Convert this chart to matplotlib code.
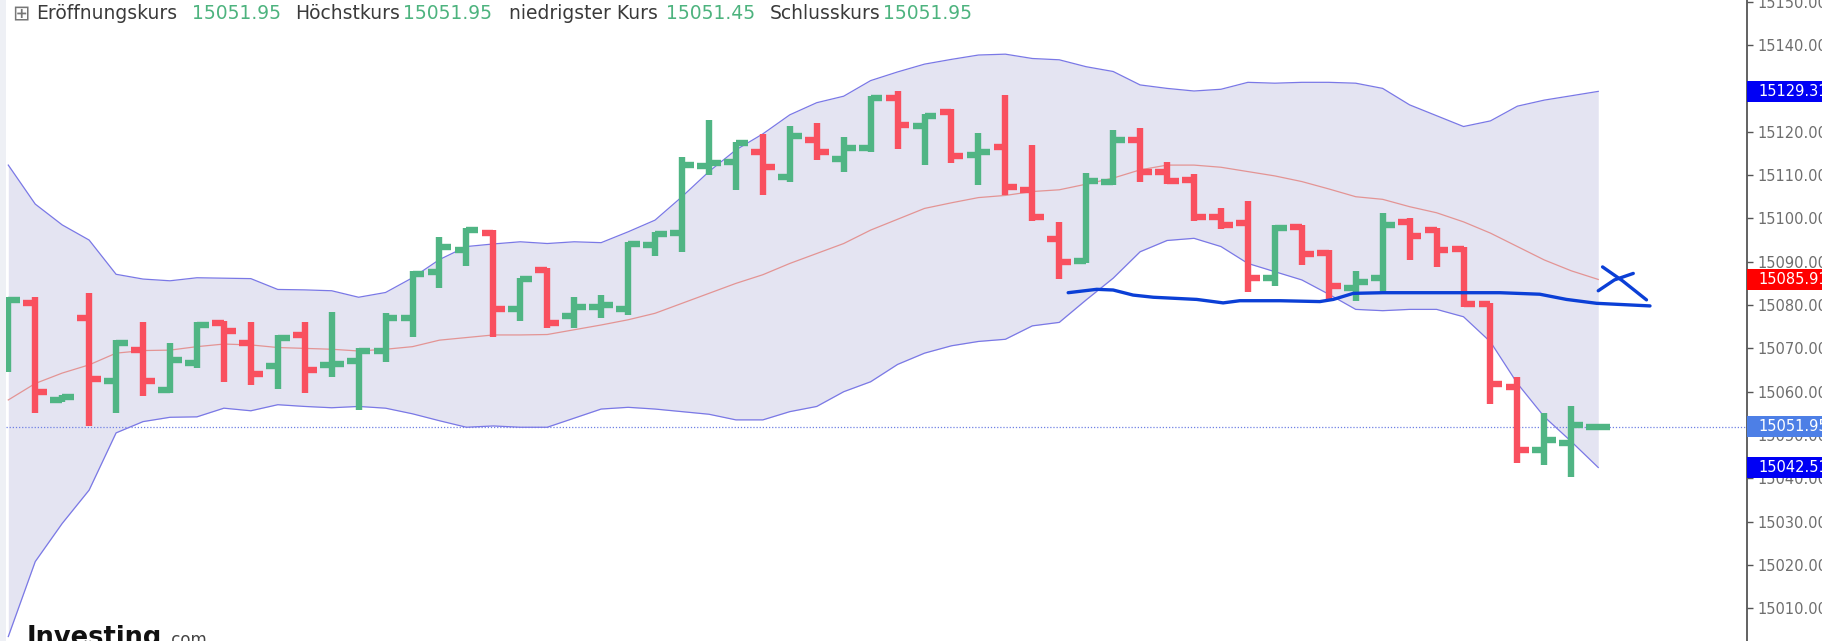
import numpy as np
import matplotlib.pyplot as plt
from matplotlib.patches import Rectangle
from matplotlib.ticker import FormatStrFormatter
from matplotlib.transforms import blended_transform_factory

W, H = 1822, 641

# OHLC, one entry per bar (oldest first)
opens = [15066.0, 15080.4, 15058.2, 15077.0, 15062.5, 15069.6, 15060.4, 15066.7, 15075.8, 15071.3,
         15065.9, 15073.1, 15066.2, 15067.2, 15069.3, 15077.1, 15087.7, 15092.7, 15096.7, 15079.0,
         15088.1, 15077.5, 15079.6, 15079.2, 15093.9, 15096.7, 15112.2, 15113.1, 15115.4, 15109.6,
         15118.1, 15113.6, 15116.3, 15127.7, 15121.3, 15124.6, 15114.6, 15116.4, 15106.6, 15095.2,
         15090.2, 15108.5, 15118.2, 15110.8, 15108.9, 15100.4, 15098.9, 15086.3, 15097.9, 15091.9,
         15083.9, 15086.2, 15099.2, 15097.3, 15092.9, 15080.3, 15061.0, 15046.5, 15048.2, 15051.95]
highs = [15081.9, 15081.9, 15059.3, 15082.7, 15072.0, 15076.2, 15071.3, 15076.2, 15076.4, 15076.2,
         15073.0, 15076.2, 15078.5, 15070.0, 15078.1, 15087.9, 15095.8, 15097.7, 15097.3, 15086.3,
         15088.5, 15081.8, 15082.3, 15094.6, 15096.9, 15114.1, 15122.6, 15117.7, 15119.4, 15121.3,
         15122.1, 15118.7, 15128.2, 15129.5, 15124.2, 15125.2, 15119.8, 15128.5, 15116.9, 15099.2,
         15110.4, 15120.4, 15120.8, 15113.1, 15110.2, 15102.3, 15103.9, 15098.5, 15098.5, 15092.7,
         15087.9, 15101.2, 15100.0, 15097.7, 15093.3, 15080.4, 15063.5, 15055.2, 15056.6, 15051.95]
lows = [15064.6, 15055.2, 15057.7, 15052.1, 15055.2, 15058.9, 15059.6, 15065.4, 15062.2, 15061.6,
        15060.6, 15059.6, 15063.3, 15055.8, 15066.9, 15072.6, 15083.9, 15088.9, 15072.7, 15076.4,
        15074.6, 15074.6, 15077.0, 15077.7, 15091.3, 15092.3, 15110.0, 15106.6, 15105.4, 15108.3,
        15113.5, 15110.8, 15115.4, 15116.0, 15112.3, 15112.7, 15107.7, 15105.4, 15099.5, 15085.9,
        15089.6, 15107.7, 15108.5, 15107.9, 15099.5, 15097.5, 15082.9, 15084.3, 15089.2, 15081.5,
        15081.0, 15083.1, 15090.4, 15088.7, 15079.6, 15057.2, 15043.6, 15043.1, 15040.3, 15051.45]
closes = [15081.2, 15060.0, 15058.8, 15062.9, 15071.3, 15062.5, 15067.3, 15075.4, 15073.9, 15064.1,
          15072.3, 15064.9, 15066.4, 15069.4, 15077.1, 15087.2, 15093.5, 15097.3, 15079.2, 15085.9,
          15075.9, 15079.5, 15080.0, 15094.1, 15096.5, 15112.3, 15112.7, 15117.3, 15111.9, 15119.0,
          15115.4, 15116.3, 15127.7, 15121.5, 15123.6, 15114.4, 15115.4, 15107.3, 15100.4, 15090.0,
          15108.7, 15118.1, 15110.8, 15108.7, 15100.4, 15098.5, 15086.3, 15097.7, 15091.8, 15084.4,
          15085.4, 15098.5, 15095.9, 15092.7, 15080.3, 15061.8, 15046.5, 15048.9, 15052.3, 15051.95]

# Bollinger bands
bb_upper = [15112.3, 15103.3, 15098.5, 15095.0, 15087.1, 15086.0, 15085.6, 15086.3, 15086.2, 15086.1,
            15083.6, 15083.5, 15083.3, 15081.8, 15082.9, 15086.3, 15090.5, 15093.5, 15094.1, 15094.6,
            15094.2, 15094.6, 15094.4, 15096.9, 15099.6, 15105.0, 15110.8, 15115.8, 15119.5, 15123.9,
            15126.7, 15128.2, 15131.8, 15133.8, 15135.6, 15136.7, 15137.7, 15137.9, 15136.9, 15136.6,
            15135.0, 15133.9, 15130.8, 15130.0, 15129.4, 15129.8, 15131.4, 15131.2, 15131.4, 15131.4,
            15131.2, 15130.0, 15126.2, 15123.7, 15121.2, 15122.5, 15125.9, 15127.3, 15128.3, 15129.31]
bb_mid = [15058.1, 15061.9, 15064.3, 15066.2, 15068.9, 15069.5, 15069.6, 15070.4, 15071.0, 15070.8,
          15070.2, 15070.0, 15069.8, 15069.4, 15069.8, 15070.4, 15071.9, 15072.5, 15073.1, 15073.1,
          15073.2, 15074.3, 15075.4, 15076.6, 15078.1, 15080.4, 15082.7, 15085.0, 15087.0, 15089.6,
          15091.9, 15094.2, 15097.3, 15099.8, 15102.3, 15103.6, 15104.8, 15105.3, 15106.2, 15106.6,
          15107.9, 15109.3, 15111.2, 15112.3, 15112.3, 15111.8, 15110.8, 15109.8, 15108.5, 15106.8,
          15105.0, 15104.4, 15102.7, 15101.3, 15099.2, 15096.6, 15093.5, 15090.4, 15087.9, 15085.91]
bb_lower = [15003.5, 15020.8, 15029.6, 15037.3, 15050.5, 15053.1, 15054.1, 15054.2, 15056.2, 15055.6,
            15057.0, 15056.6, 15056.3, 15056.6, 15056.2, 15054.9, 15053.3, 15051.8, 15052.1, 15051.8,
            15051.8, 15053.9, 15056.0, 15056.4, 15056.0, 15055.4, 15054.8, 15053.5, 15053.5, 15055.4,
            15056.6, 15060.0, 15062.3, 15066.3, 15068.9, 15070.6, 15071.6, 15072.1, 15075.2, 15076.0,
            15081.2, 15086.2, 15092.3, 15094.9, 15095.4, 15093.5, 15089.6, 15087.7, 15085.8, 15082.5,
            15079.0, 15078.7, 15079.0, 15079.0, 15077.3, 15071.5, 15061.9, 15054.2, 15048.5, 15042.51]

last_price = 15051.95
legend_items = [("Eröffnungskurs", "15051.95"), ("Höchstkurs", "15051.95"),
                ("niedrigster Kurs", "15051.45"), ("Schlusskurs", "15051.95")]
price_ticks = np.arange(15010, 15151, 10)

# hand-drawn pen marks (bar index, price)
pen_x = [39.33, 40.39, 41.0, 41.74, 42.49, 44.1, 45.08, 45.7, 47.2, 48.67, 49.17, 49.91,
         51.02, 55.35, 56.83, 57.82, 58.94, 60.92]
pen_y = [15082.85, 15083.63, 15083.47, 15082.3, 15081.8, 15081.3, 15080.5, 15081.0, 15081.0,
         15080.8, 15081.3, 15082.7, 15082.85, 15082.85, 15082.5, 15081.3, 15080.4, 15079.8]
cross_a_x, cross_a_y = [59.0, 59.6, 60.3], [15083.3, 15085.8, 15087.3]
cross_b_x, cross_b_y = [59.16, 59.9, 60.79], [15088.8, 15085.6, 15081.2]

UP, DOWN = '#50b584', '#f9505f'

fig = plt.figure(figsize=(W / 100, H / 100), dpi=100)
ax = fig.add_axes([6 / W, 0, (1747 - 6) / W, 1])
ax.set_xlim(-0.085, 64.52)
ax.set_ylim(15002.47, 15150.40)

x = np.arange(len(closes))
o, h, l, c = map(np.array, (opens, highs, lows, closes))
cols = [UP if cc >= oo else DOWN for oo, cc in zip(o, c)]

# Bollinger bands
ax.fill_between(x, bb_lower, bb_upper, color='#e4e4f2', lw=0, zorder=1)
ax.plot(x, bb_upper, color='#7a78e6', lw=0.9, zorder=2)
ax.plot(x, bb_lower, color='#7a78e6', lw=0.9, zorder=2)
ax.plot(x, bb_mid, color='#e39494', lw=0.9, zorder=2)
ax.axhline(last_price, color='#6f80e4', lw=0.9, ls=(0, (1, 1.5)), zorder=1.5)

# OHLC bars
ax.vlines(x, l, h, colors=cols, lw=4.6, zorder=3)
ax.hlines(o, x - 0.44, x, colors=cols, lw=4.6, zorder=3)
ax.hlines(c, x, x + 0.44, colors=cols, lw=4.6, zorder=3)

# pen marks
pen = dict(color='#0b3fd6', lw=2.4, solid_capstyle='round', solid_joinstyle='round', zorder=8)
ax.plot(pen_x, pen_y, **pen)
ax.plot(cross_a_x, cross_a_y, **pen)
ax.plot(cross_b_x, cross_b_y, **pen)

# price axis on the right
ax.set_xticks([])
for s in ('top', 'left', 'bottom'):
    ax.spines[s].set_visible(False)
ax.spines['right'].set_color('#555555')
ax.spines['right'].set_linewidth(1.3)
ax.yaxis.tick_right()
ax.set_yticks(price_ticks)
ax.yaxis.set_major_formatter(FormatStrFormatter('%.2f'))
ax.tick_params(axis='y', direction='out', length=4.3, width=1, color='#555555',
               pad=3.5, labelsize=10.5, labelcolor='#6e6e6e')

trans = blended_transform_factory(ax.transAxes, ax.transData)
for val, fc in [(bb_upper[-1], '#0000f5'), (bb_mid[-1], '#ff0000'),
                (last_price, '#4d7fe6'), (bb_lower[-1], '#0000f5')]:
    ax.add_patch(Rectangle((1.0, val - 2.5), 0.1, 5.0, transform=trans, facecolor=fc,
                           edgecolor='none', clip_on=False, zorder=6))
    ax.text(1.0 + 11 / 1741, val, f'{val:.2f}', transform=trans, color='white',
            fontsize=10.5, va='center', ha='left', clip_on=False, zorder=7)

# left gutter
fig.patches.append(Rectangle((0, 0), 6 / W, 1, transform=fig.transFigure,
                             facecolor='#eef0f5', edgecolor='none'))

# header line
base = 1 - 19.3 / H
fig.text(12 / W, base, '⊞', fontsize=15, color='#777777', va='baseline')
label_x = [36, 295, 509, 770]
value_x = [192, 403, 666, 883]
for (lab, val), lx, vx in zip(legend_items, label_x, value_x):
    fig.text(lx / W, base, lab, fontsize=13.5, color='#3a3a3a', va='baseline')
    fig.text(vx / W, base, val, fontsize=13.5, color='#4db37e', va='baseline')

# watermark, cut by the bottom edge
fig.text(26.7 / W, 1 - 645 / H, 'Investing', fontsize=18.5, fontweight='bold',
         color='#111111', va='baseline')
fig.text(166 / W, 1 - 645 / H, '.com', fontsize=12, color='#444444', va='baseline')

fig.savefig('out.png', dpi=100)
